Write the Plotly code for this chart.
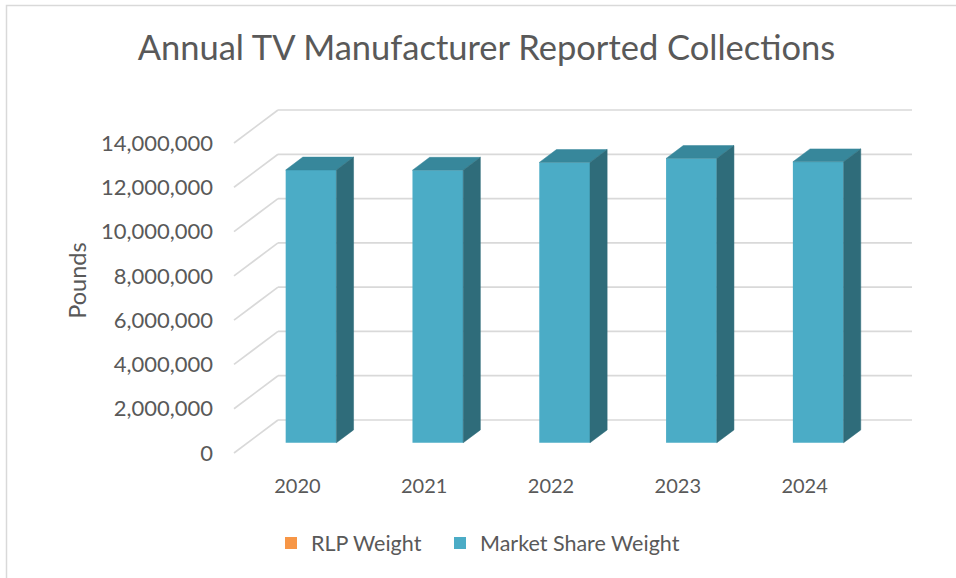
import plotly.graph_objects as go

# ---- data ----
years = ["2020", "2021", "2022", "2023", "2024"]
market_share_weight = [12320000, 12310000, 12660000, 12840000, 12690000]
rlp_weight = [0, 0, 0, 0, 0]
y_ticks = [0, 2000000, 4000000, 6000000, 8000000, 10000000, 12000000, 14000000]
y_tick_text = ["0", "2,000,000", "4,000,000", "6,000,000", "8,000,000",
               "10,000,000", "12,000,000", "14,000,000"]

# ---- style / geometry constants (pixels) ----
W, H = 956, 578
FONT = "Lato"
TXT = "#595959"
GRID = "#d9d9d9"
FRONT = "#4BACC6"
TOP = "#37879B"
SIDE = "#2F6C7A"
ORANGE = "#F79646"

UX = 126.8          # px per category
UY = 22.143e-6      # px per pound
X0PX = 234          # px of front-left floor corner (x = -0.5)
Y0PX = 453          # px of front floor (y = 0)
WALL_DX_PX, WALL_DY_PX = 44, 33
F_FRONT, F_BACK = 0.31, 0.70
BAR_W = 0.4

ML, MR, MT, MB = 232, 42, 104, 121

dxW = WALL_DX_PX / UX
dyW = WALL_DY_PX / UY
n = len(years)
xs = list(range(n))
xL, xR = -0.5, n - 0.5 + dxW

x_lo = -0.5 - (X0PX - ML) / UX
x_hi = x_lo + (W - ML - MR) / UX
y_lo = -((H - MB) - Y0PX) / UY
y_hi = y_lo + (H - MT - MB) / UY

fig = go.Figure()

# front faces
base = F_FRONT * dyW
xc = [i + F_FRONT * dxW for i in xs]
fig.add_trace(go.Bar(x=xc, y=rlp_weight, base=[base] * n, width=BAR_W,
                     name="RLP Weight", legend="legend",
                     marker=dict(color=ORANGE, line_width=0)))
fig.add_trace(go.Bar(x=xc, y=market_share_weight, base=[base] * n, width=BAR_W,
                     name="Market Share Weight", legend="legend2",
                     marker=dict(color=FRONT, line_width=0)))

ddx = (F_BACK - F_FRONT) * dxW
ddy = (F_BACK - F_FRONT) * dyW
top_x, top_y, side_x, side_y = [], [], [], []
for c, v in zip(xc, market_share_weight):
    l, r = c - BAR_W / 2, c + BAR_W / 2
    t = base + v
    top_x += [l, r, r + ddx, l + ddx, l, None]
    top_y += [t, t, t + ddy, t + ddy, t, None]
    side_x += [r, r + ddx, r + ddx, r, r, None]
    side_y += [base, base + ddy, t + ddy, t, base, None]

fig.add_trace(go.Scatter(x=top_x, y=top_y, fill="toself", fillcolor=TOP,
                         mode="lines", line=dict(width=0.5, color=TOP),
                         showlegend=False, hoverinfo="skip"))
fig.add_trace(go.Scatter(x=side_x, y=side_y, fill="toself", fillcolor=SIDE,
                         mode="lines", line=dict(width=0.5, color=SIDE),
                         showlegend=False, hoverinfo="skip"))

# gridlines (wall + back)
shapes = []
for t in y_ticks:
    shapes.append(dict(type="line", xref="x", yref="y", x0=xL, y0=t,
                       x1=xL + dxW, y1=t + dyW, layer="below",
                       line=dict(color=GRID, width=1.7)))
    shapes.append(dict(type="line", xref="x", yref="y", x0=xL + dxW, y0=t + dyW,
                       x1=xR, y1=t + dyW, layer="below",
                       line=dict(color=GRID, width=1.7)))
# chart border
pw, ph = W - ML - MR, H - MT - MB
shapes.append(dict(type="rect", xref="paper", yref="paper",
                   x0=(6.5 - ML) / pw, x1=(W + 10 - ML) / pw,
                   y0=-(MB + 10) / ph, y1=1 + (MT - 5.5) / ph,
                   line=dict(color=GRID, width=1.5), layer="below"))

leg_common = dict(orientation="h", xref="container", yref="container",
                  y=1 - 543 / H, xanchor="left", yanchor="middle",
                  font=dict(size=21.5), itemclick=False)

fig.update_layout(
    width=W, height=H,
    margin=dict(l=ML, r=MR, t=MT, b=MB, autoexpand=False),
    paper_bgcolor="white", plot_bgcolor="white",
    barmode="overlay",
    font=dict(family=FONT, color=TXT, size=21),
    title=dict(text="Annual TV Manufacturer Reported Collections",
               font=dict(size=34.5, color=TXT, family=FONT),
               xref="container", yref="container",
               x=486.5 / W, y=1 - 48 / H, xanchor="center", yanchor="middle"),
    xaxis=dict(range=[x_lo, x_hi], tickvals=xs, ticktext=years,
               showgrid=False, zeroline=False, showline=False, ticks="",
               automargin=False,
               ticklabelstandoff=15, tickfont=dict(size=20)),
    yaxis=dict(range=[y_lo, y_hi], tickvals=y_ticks, ticktext=y_tick_text,
               showgrid=False, zeroline=False, showline=False, ticks="",
               automargin=False,
               ticklabelstandoff=18, tickfont=dict(size=22),
               title=dict(text="Pounds", font=dict(size=23.5), standoff=7)),
    legend=dict(x=271 / W, **leg_common),
    legend2=dict(x=440 / W, **leg_common),
    shapes=shapes,
    showlegend=True,
)

fig.write_html("out.html",
               config={"displayModeBar": False},
               post_script="document.body.style.margin='0';"
                           "document.body.style.overflow='hidden';")
